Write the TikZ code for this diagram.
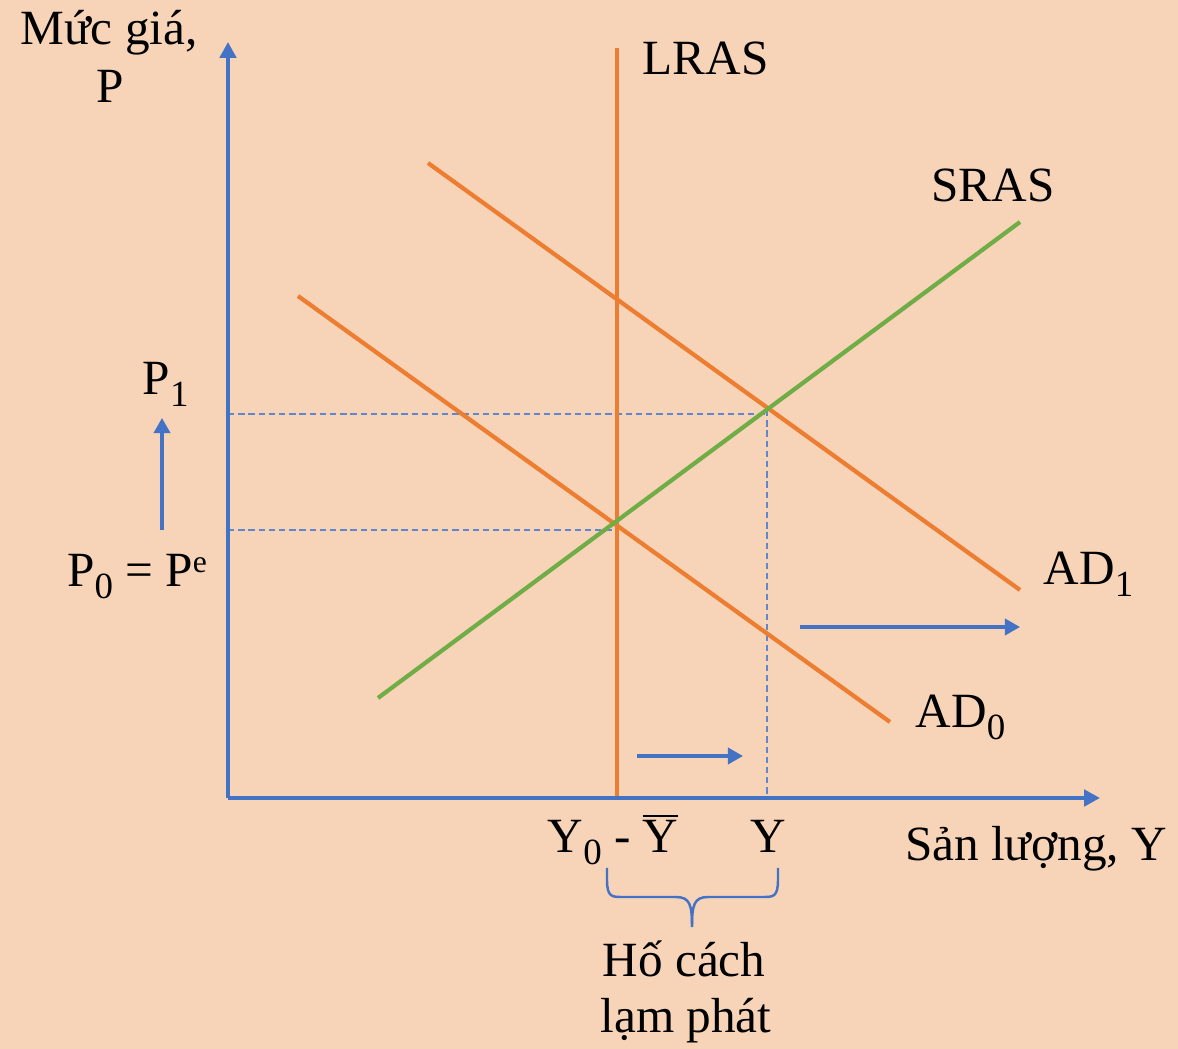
\documentclass[tikz,border=0pt]{standalone}
\usepackage{fontspec}
\setmainfont{Liberation Serif}
\usepackage{xcolor}
\usetikzlibrary{arrows.meta}
\definecolor{paper}{RGB}{247,212,184}
\definecolor{axisblue}{RGB}{68,114,196}
\definecolor{adorange}{RGB}{237,125,49}
\definecolor{srasgreen}{RGB}{112,173,71}
\newcommand\lowidx[1]{\raisebox{-3.4pt}{\fontsize{10.5}{12}\selectfont #1}}
\newcommand\highidx[1]{\raisebox{4pt}{\fontsize{9}{10}\selectfont #1}}

\begin{document}
\begin{tikzpicture}[x=0.01cm,y=-0.01cm,font=\fontsize{14}{16}\selectfont,line cap=butt,
  axisline/.style={axisblue,line width=1.2pt,-{Triangle[length=4.5pt,width=4.6pt]}},
  curveline/.style={line width=1.2pt},
  guideline/.style={axisblue!85,line width=0.5pt,dash pattern=on 1.8pt off 1.1pt},
  movearrow/.style={axisblue,line width=0.95pt,-{Triangle[length=4.3pt,width=4.6pt]}},
  bracket/.style={axisblue,line width=0.7pt},
  lbl/.style={inner sep=0pt,anchor=base}]
\fill[paper] (0,0) rectangle (1178,1049);
% points
\coordinate (origin) at (228,798);
\coordinate (ytop) at (228,42);
\coordinate (xend) at (1100,798);
\coordinate (lrastop) at (617,48);
\coordinate (lrasbot) at (617,800);
\coordinate (sraslo) at (378,698);
\coordinate (srashi) at (1020,222);
\coordinate (adOa) at (298,296);
\coordinate (adOb) at (890,722);
\coordinate (adIa) at (428,163);
\coordinate (adIb) at (1020,590);
\coordinate (pzeroL) at (228,530);
\coordinate (pzeroR) at (617,530);
\coordinate (poneL) at (228,414);
\coordinate (poneR) at (767,414);
\coordinate (ytall) at (767,410);
\coordinate (ybase) at (767,798);
\coordinate (upA) at (162,530);
\coordinate (upB) at (162,418);
\coordinate (smallA) at (637,756);
\coordinate (smallB) at (743,756);
\coordinate (bigA) at (800,627);
\coordinate (bigB) at (1020,627);
\coordinate (braceL) at (607,868);
\coordinate (braceR) at (778,868);
\coordinate (bracetip) at (692,927);
% guides
\draw[guideline] (pzeroL) -- (pzeroR);
\draw[guideline] (poneL) -- (poneR);
\draw[guideline] (ytall) -- (ybase);
% curves
\draw[curveline,adorange] (lrastop) -- (lrasbot);
\draw[curveline,adorange] (adOa) -- (adOb);
\draw[curveline,adorange] (adIa) -- (adIb);
\draw[curveline,srasgreen] (sraslo) -- (srashi);
% axes
\draw[axisline] (origin) -- (ytop);
\draw[axisline] (origin) -- (xend);
% shifts
\draw[movearrow] (upA) -- (upB);
\draw[movearrow] (smallA) -- (smallB);
\draw[movearrow] (bigA) -- (bigB);
% gap brace
\draw[bracket] (braceL) -- (607,880) .. controls (607,897) and (612,897) .. (622,897)
  -- (676,897) .. controls (690,897) and (692,905) .. (bracetip);
\draw[bracket] (braceR) -- (778,880) .. controls (778,897) and (773,897) .. (763,897)
  -- (708,897) .. controls (694,897) and (692,905) .. (bracetip);
% labels
\node[lbl] (pricetop) at (109,45) {Mức giá,};
\node[lbl] (pricebot) at (110,103) {P};
\node[lbl,anchor=base west] (lras) at (642,75) {LRAS};
\node[lbl] (sras) at (993,202) {SRAS};
\node[lbl,anchor=base west] (adone) at (1043,585) {AD\lowidx{1}};
\node[lbl,anchor=base west] (adzero) at (915,728) {AD\lowidx{0}};
\node[lbl,anchor=base west] (pone) at (142,395) {P\lowidx{1}};
\node[lbl] (pzero) at (137,587) {P\lowidx{0} = P\highidx{e}};
\node[lbl,anchor=base west] (yzero) at (547,853) {Y\lowidx{0} - $\overline{\mbox{Y}}$};
\node[lbl] (yout) at (768,853) {Y};
\node[lbl] (output) at (1036,860) {Sản lượng, Y};
\node[lbl] (gaptop) at (684,977) {Hố cách};
\node[lbl] (gapbot) at (686,1033) {lạm phát};
\end{tikzpicture}
\end{document}
